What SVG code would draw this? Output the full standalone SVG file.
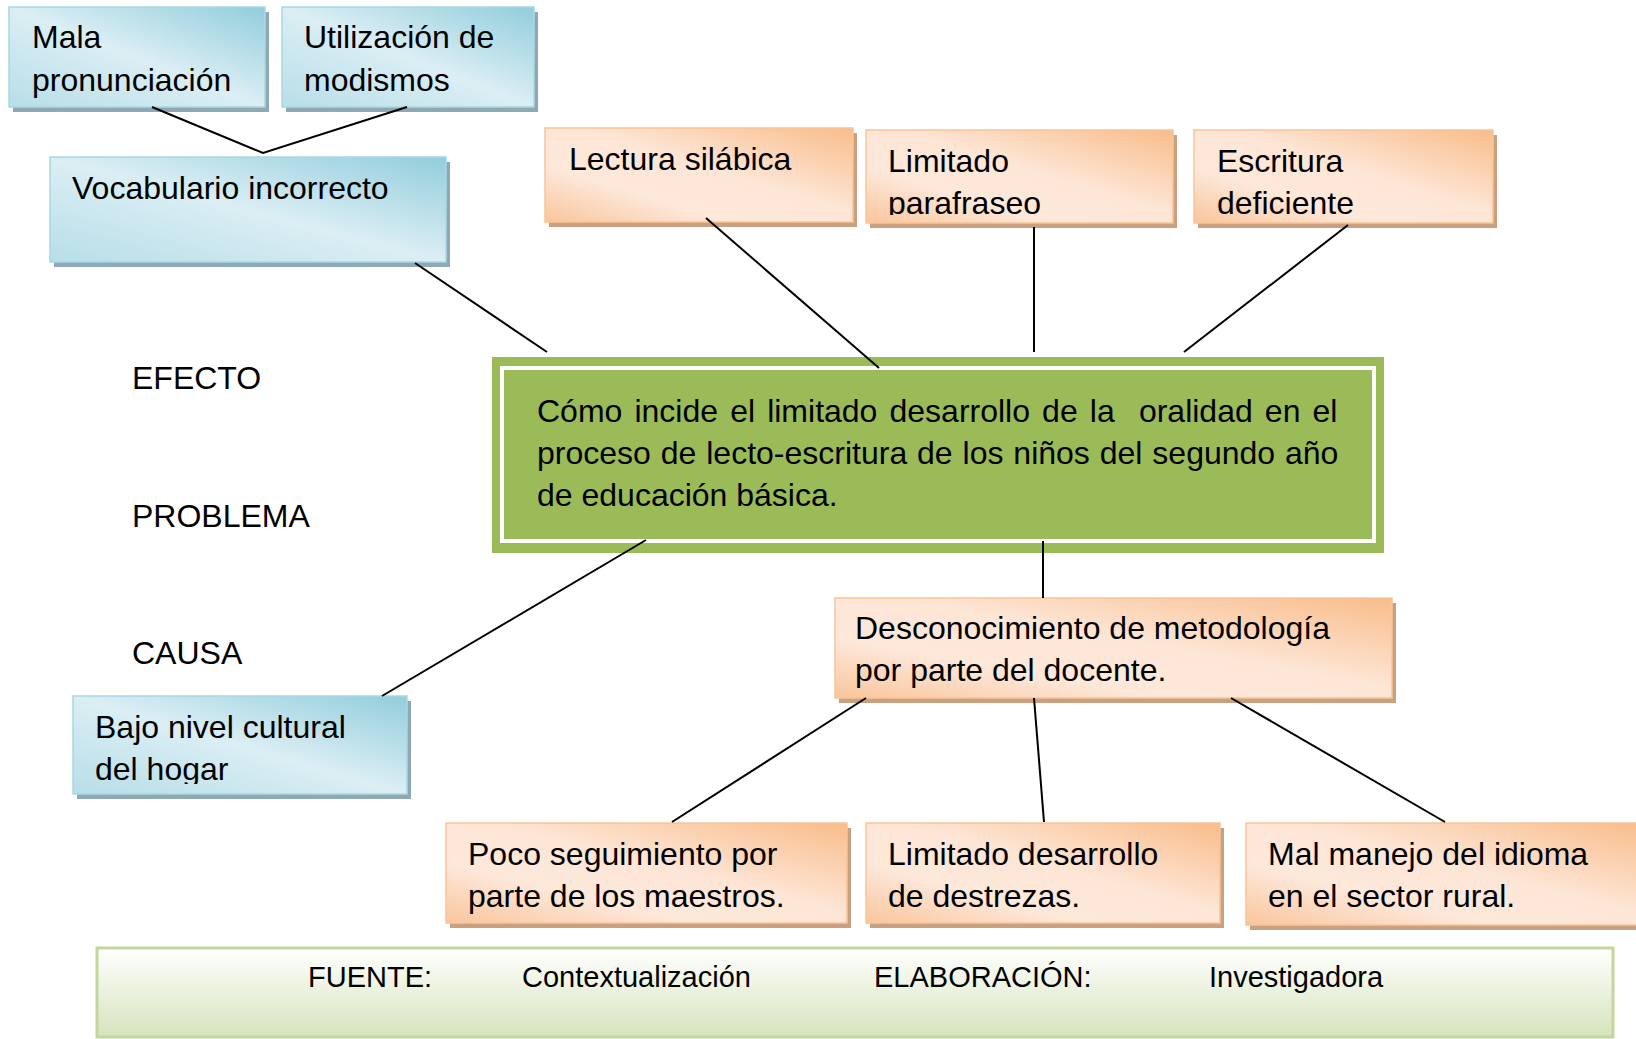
<svg xmlns="http://www.w3.org/2000/svg" width="1636" height="1039" viewBox="0 0 1636 1039">
<defs>
<linearGradient id="gBlue" x1="1" y1="0" x2="0" y2="1">
<stop offset="0" stop-color="#92cddc"/>
<stop offset="0.5" stop-color="#dbeef4"/>
<stop offset="1" stop-color="#b7dee8"/>
</linearGradient>
<linearGradient id="gOrange" x1="1" y1="0" x2="0" y2="1">
<stop offset="0" stop-color="#f9bc8a"/>
<stop offset="0.45" stop-color="#fde6d6"/>
<stop offset="0.7" stop-color="#fde8da"/>
<stop offset="1" stop-color="#f9c59c"/>
</linearGradient>
<linearGradient id="gFoot" x1="0" y1="0" x2="0" y2="1">
<stop offset="0" stop-color="#ffffff"/>
<stop offset="1" stop-color="#d6e3bc"/>
</linearGradient>
<clipPath id="clipPara"><rect x="866" y="130" width="307" height="85"/></clipPath>
<clipPath id="clipEsc"><rect x="1194" y="130" width="299" height="85"/></clipPath>
<clipPath id="clipBajo"><rect x="73" y="696" width="334" height="88"/></clipPath>
</defs>
<style>
text { font-family: "Liberation Sans", Arial, sans-serif; font-size: 32px; fill: #000; }
.foot { font-size: 29px; }
.blue { fill: url(#gBlue); stroke: #a8d7e3; stroke-width: 1.5; }
.bshadow { fill: #8fa9b4; }
.orange { fill: url(#gOrange); stroke: #fac497; stroke-width: 1.5; }
.oshadow { fill: #c9a080; }
.conn line, .conn polyline { stroke: #000; stroke-width: 2; fill: none; }
</style>

<g id="mala">
<rect class="bshadow" x="13" y="12" width="256" height="100"/>
<rect class="blue" x="9" y="7" width="256" height="100"/>
<text x="32" y="48">Mala</text>
<text x="32" y="91">pronunciación</text>
</g>
<g id="modismos">
<rect class="bshadow" x="286" y="12" width="252" height="100"/>
<rect class="blue" x="282" y="7" width="252" height="100"/>
<text x="304" y="48">Utilización de</text>
<text x="304" y="91">modismos</text>
</g>
<g id="vocabulario">
<rect class="bshadow" x="54" y="162" width="396" height="105"/>
<rect class="blue" x="50" y="157" width="396" height="105"/>
<text x="72" y="199">Vocabulario incorrecto</text>
</g>
<g id="lectura">
<rect class="oshadow" x="549" y="133" width="308" height="94"/>
<rect class="orange" x="545" y="128" width="308" height="94"/>
<text x="569" y="170">Lectura silábica</text>
</g>
<g id="parafraseo">
<rect class="oshadow" x="870" y="135" width="307" height="93"/>
<rect class="orange" x="866" y="130" width="307" height="93"/>
<g clip-path="url(#clipPara)">
<text x="888" y="172">Limitado</text>
<text x="888" y="214">parafraseo</text>
</g>
</g>
<g id="escritura">
<rect class="oshadow" x="1198" y="135" width="299" height="93"/>
<rect class="orange" x="1194" y="130" width="299" height="93"/>
<g clip-path="url(#clipEsc)">
<text x="1217" y="172">Escritura</text>
<text x="1217" y="214">deficiente</text>
</g>
</g>
<g id="labels">
<text x="132" y="389">EFECTO</text>
<text x="132" y="527">PROBLEMA</text>
<text x="132" y="664">CAUSA</text>
</g>
<g id="problema">
<rect x="492" y="357" width="892" height="196" fill="#9bbb59"/>
<rect x="502" y="368" width="872" height="173" fill="none" stroke="#ffffff" stroke-width="4"/>
<text x="537" y="422" word-spacing="3.2" xml:space="preserve">Cómo incide el limitado desarrollo de la  oralidad en el</text>
<text x="537" y="464" word-spacing="1">proceso de lecto-escritura de los niños del segundo año</text>
<text x="537" y="506">de educación básica.</text>
</g>
<g id="desconocimiento">
<rect class="oshadow" x="839" y="603" width="557" height="100"/>
<rect class="orange" x="835" y="598" width="557" height="100"/>
<text x="855" y="639">Desconocimiento de metodología</text>
<text x="855" y="681">por parte del docente.</text>
</g>
<g id="bajo">
<rect class="bshadow" x="77" y="701" width="334" height="98"/>
<rect class="blue" x="73" y="696" width="334" height="98"/>
<g clip-path="url(#clipBajo)">
<text x="95" y="738">Bajo nivel cultural</text>
<text x="95" y="780">del hogar</text>
</g>
</g>
<g id="poco">
<rect class="oshadow" x="450" y="828" width="401" height="100"/>
<rect class="orange" x="446" y="823" width="401" height="100"/>
<text x="468" y="865">Poco seguimiento por</text>
<text x="468" y="907">parte de los maestros.</text>
</g>
<g id="destrezas">
<rect class="oshadow" x="870" y="828" width="354" height="100"/>
<rect class="orange" x="866" y="823" width="354" height="100"/>
<text x="888" y="865">Limitado desarrollo</text>
<text x="888" y="907">de destrezas.</text>
</g>
<g id="idioma">
<rect class="oshadow" x="1250" y="828" width="400" height="102"/>
<rect class="orange" x="1246" y="823" width="400" height="102"/>
<text x="1268" y="865">Mal manejo del idioma</text>
<text x="1268" y="907">en el sector rural.</text>
</g>
<g id="fuente">
<rect x="97" y="948" width="1516" height="89" fill="url(#gFoot)" stroke="#c3d69b" stroke-width="3"/>
<text class="foot" x="308" y="987">FUENTE:</text>
<text class="foot" x="522" y="987">Contextualización</text>
<text class="foot" x="874" y="987">ELABORACIÓN:</text>
<text class="foot" x="1209" y="987">Investigadora</text>
</g>

<g id="connectors" class="conn">
<polyline points="152,107 263,153 407,107"/>
<line x1="415" y1="263" x2="547" y2="352"/>
<line x1="706" y1="218" x2="879" y2="368"/>
<line x1="1034" y1="227" x2="1034" y2="352"/>
<line x1="1348" y1="225" x2="1184" y2="352"/>
<line x1="646" y1="540" x2="382" y2="696"/>
<line x1="1043" y1="541" x2="1043" y2="598"/>
<line x1="866" y1="698" x2="672" y2="822"/>
<line x1="1034" y1="698" x2="1044" y2="822"/>
<line x1="1231" y1="698" x2="1445" y2="822"/>
</g>
</svg>
